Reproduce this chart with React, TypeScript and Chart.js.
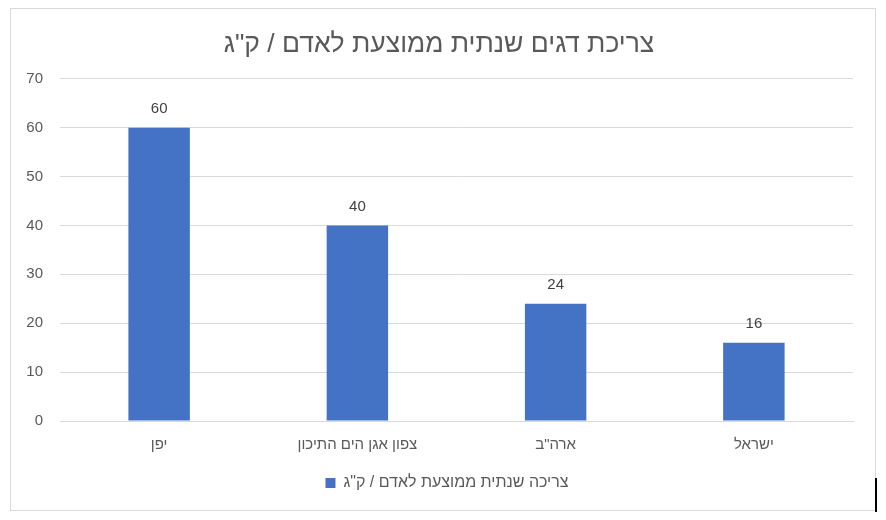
import { useEffect, useRef } from "react"
import { Chart, registerables } from "chart.js"

Chart.register(...registerables)

const categories = ["יפן", "צפון אגן הים התיכון", "ארה\"ב", "ישראל"]
const consumption = [60, 40, 24, 16]
const seriesLabel = "צריכה שנתית ממוצעת לאדם / ק\"ג"
const chartTitle = "צריכת דגים שנתית ממוצעת לאדם / ק\"ג"

const FONT = "'Liberation Sans', 'DejaVu Sans', sans-serif"
const TEXT = "#595959"

// Value labels above each bar
const barLabels = {
  id: "barLabels",
  afterDatasetsDraw(chart: Chart) {
    const ctx = chart.ctx
    const meta = chart.getDatasetMeta(0)
    ctx.save()
    ctx.font = `15px ${FONT}`
    ctx.fillStyle = "#404040"
    ctx.textAlign = "center"
    ctx.textBaseline = "middle"
    meta.data.forEach((bar: any, i: number) => {
      ctx.fillText(String(consumption[i]), bar.x, bar.y - 19)
    })
    ctx.restore()
  },
}

// nudge title and legend a little to the right, like the original
const nudgeBoxes = {
  id: "nudgeBoxes",
  afterLayout(chart: any) {
    if (chart.titleBlock) {
      chart.titleBlock.left += 7
      chart.titleBlock.right += 7
    }
    if (chart.legend) {
      chart.legend.left += 15
      chart.legend.right += 15
    }
  },
}

export default function App() {
  const canvasRef = useRef<HTMLCanvasElement>(null)
  const chartRef = useRef<Chart | null>(null)

  useEffect(() => {
    if (!canvasRef.current) return
    if (chartRef.current) chartRef.current.destroy()
    const ctx = canvasRef.current.getContext("2d")
    if (!ctx) return

    chartRef.current = new Chart(ctx, {
      type: "bar",
      data: {
        labels: categories,
        datasets: [
          {
            label: seriesLabel,
            data: consumption,
            backgroundColor: "#4472C4",
            categoryPercentage: 1,
            barPercentage: 0.31,
          },
        ],
      },
      options: {
        animation: false,
        responsive: false,
        maintainAspectRatio: false,
        layout: { padding: { left: 0, right: 22, top: 0, bottom: 9 } },
        plugins: {
          title: {
            display: true,
            text: chartTitle,
            color: TEXT,
            font: { family: FONT, size: 26.5, weight: "normal" },
            padding: { top: 20, bottom: 18 },
          },
          legend: {
            position: "bottom",
            labels: {
              color: TEXT,
              font: { family: FONT, size: 16 },
              boxWidth: 10,
              boxHeight: 10,
              padding: 10,
            },
          },
          tooltip: { enabled: false },
        },
        scales: {
          x: {
            grid: { display: false },
            border: { color: "#D9D9D9", width: 1 },
            afterFit: (scale: any) => {
              scale.height += 4
            },
            ticks: {
              color: TEXT,
              font: { family: FONT, size: 15 },
              padding: 7,
            },
          },
          y: {
            min: 0,
            max: 70,
            afterFit: (scale: any) => {
              scale.width = 49
            },
            grid: { color: "#D9D9D9", drawTicks: false },
            border: { display: false },
            ticks: {
              stepSize: 10,
              color: TEXT,
              font: { family: FONT, size: 15 },
              padding: 17,
            },
          },
        },
      },
      plugins: [barLabels, nudgeBoxes],
    })

    return () => {
      if (chartRef.current) {
        chartRef.current.destroy()
        chartRef.current = null
      }
    }
  }, [])

  return (
    <div style={{ position: "fixed", left: 0, top: 0, width: 886, height: 520, background: "#fff" }}>
      <div
        style={{
          position: "absolute",
          left: 10,
          top: 8,
          width: 864,
          height: 501,
          border: "1px solid #D9D9D9",
        }}
      >
        <canvas ref={canvasRef} width={864} height={501} style={{ width: 864, height: 501 }} />
      </div>
      <div style={{ position: "absolute", left: 875, top: 478, width: 2, height: 34, background: "#000" }} />
    </div>
  )
}
